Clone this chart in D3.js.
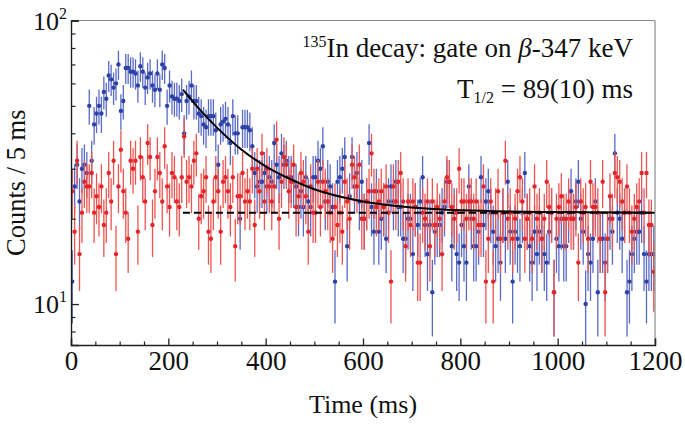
<!DOCTYPE html>
<html>
<head>
<meta charset="utf-8">
<script src="https://cdn.jsdelivr.net/npm/d3@7"></script>
<style>
  html, body { margin: 0; padding: 0; background: #fff; }
  svg { display: block; }
  text { font-family: "Liberation Serif", "Times New Roman", serif; fill: #111; }
</style>
</head>
<body>
<svg id="chart" width="685" height="425"></svg>
<script>
// ---------- data (counts per 5 ms bin, 240 bins from 0 to 1200 ms) ----------
const binWidth = 5;
const blueCounts = [
  12,26,31,23,30,31,29,50,32,43,
  47,50,47,56,53,64,62,58,60,70,
  48,52,68,68,66,66,65,59,69,66,
  58,63,65,59,57,65,57,70,68,50,
  59,54,53,53,52,55,40,52,54,59,
  52,52,47,46,43,42,46,46,46,41,
  31,43,44,45,43,37,46,40,40,20,
  42,42,42,41,36,29,26,27,
  27,29,26,28,27,37,31,28,34,31,
  32,28,28,27,26,22,25,22,28,23,
  22,28,28,32,30,36,23,27,26,22,
  12,27,28,30,33,16,24,33,26,29,
  23,27,20,23,37,22,18,25,18,20,
  22,17,23,26,23,27,22,22,17,17,
  20,20,15,22,19,23,28,19,15,19,
  11,18,19,19,21,22,27,27,16,21,
  15,14,
  19,16,14,26,20,16,16,18,28,19,
  23,25,21,18,16,17,14,21,17,27,
  18,12,18,17,16,21,29,20,16,14,
  18,15,18,17,15,14,18,21,11,17,
  16,20,16,16,21,25,20,23,27,20,
  18,10,15,14,17,23,11,17,17,14,
  17,20,18,34,21,20,17,21,11,12,
  15,17,18,18,21,15,12,15,15,15
];
const redCounts = [
  25,18,32,15,21,27,26,26,29,21,
  24,22,26,19,21,29,23,32,15,26,
  35,25,21,17,32,30,32,18,33,28,
  23,37,33,19,25,33,29,23,36,26,
  22,29,28,23,22,28,39,27,28,26,
  32,34,20,24,25,28,18,17,23,28,
  25,18,27,28,25,22,28,16,24,24,
  29,23,25,23,30,19,30,25,
  34,23,30,26,23,26,38,20,
  27,33,31,25,27,31,22,24,29,27,
  24,18,26,21,21,27,22,27,25,23,
  21,17,22,19,21,18,27,23,20,31,
  28,26,31,20,20,23,25,34,25,22,
  23,25,22,26,21,12,26,23,27,29,
  23,16,23,19,23,22,14,14,21,20,
  23,16,23,19,22,20,15,23,28,27,
  22,20,21,30,
  23,23,20,23,23,20,23,19,19,26,
  12,17,23,12,21,25,17,21,32,20,
  21,17,20,25,28,23,17,20,21,17,
  26,20,21,17,20,27,22,21,11,20,
  22,24,20,20,23,20,20,22,14,23,
  21,22,17,27,22,22,21,17,27,11,
  17,24,20,29,28,27,23,21,26,21,
  18,20,22,23,29,21,29,19,19,13
];
// fit curve (exponential decay + constant background)
const fitTimes  = [230, 260, 300, 350, 400, 450, 500, 600, 700, 800, 1000, 1200];
const fitValues = [57, 49.5, 41.9, 35.1, 30.6, 27.6, 25.4, 23.0, 21.9, 21.4, 21.1, 21.0];
const bgTimes  = [230, 1200];
const bgValues = [21, 21];
const xTicksMajor = [0, 200, 400, 600, 800, 1000, 1200];
const xTicksMinor = [50,100,150,250,300,350,450,500,550,650,700,750,850,900,950,1050,1100,1150];
const yTicksMajor = [10, 100];
const yTickExponents = ["1", "2"];
const yTicksMinor = [8, 9, 20, 30, 40, 50, 60, 70, 80, 90];
const xDomain = [0, 1200];
const yDomain = [7.17, 100];

// ---------- layout ----------
const svg = d3.select("#chart");
const L = 71, R = 655, T = 20.5, B = 345;
const x = d3.scaleLinear().domain(xDomain).range([L, R]);
const y = d3.scaleLog().domain(yDomain).range([B, T]);

svg.append("defs").append("clipPath").attr("id", "plotclip")
  .append("rect").attr("x", L).attr("y", T).attr("width", R - L).attr("height", B - T);

const plot = svg.append("g").attr("clip-path", "url(#plotclip)");

function drawSeries(counts, barColor, dotColor) {
  const data = counts.map((n, i) => ({ t: (i + 0.5) * binWidth, n: n }));
  const g = plot.append("g");
  g.selectAll("line.err").data(data).enter().append("line")
    .attr("class", "err")
    .attr("x1", d => x(d.t)).attr("x2", d => x(d.t))
    .attr("y1", d => y(Math.max(d.n - Math.sqrt(d.n), 1)))
    .attr("y2", d => y(d.n + Math.sqrt(d.n)))
    .attr("stroke", barColor).attr("stroke-width", 1.3);
  return { g, data, dotColor };
}
const sb = drawSeries(blueCounts, "#5a6bc6", "#2d41a6");
const sr = drawSeries(redCounts, "#ec5450", "#e3262a");
[sb, sr].forEach(s => {
  s.g.selectAll("circle").data(s.data).enter().append("circle")
    .attr("cx", d => x(d.t)).attr("cy", d => y(d.n)).attr("r", 2.2)
    .attr("fill", s.dotColor);
});

// background (dashed) and fit curve
const line = d3.line().x(d => x(d[0])).y(d => y(d[1])).curve(d3.curveMonotoneX);
plot.append("path").datum(bgTimes.map((t, i) => [t, bgValues[i]]))
  .attr("d", line).attr("fill", "none").attr("stroke", "#000")
  .attr("stroke-width", 2).attr("stroke-dasharray", "7,4");
plot.append("path").datum(fitTimes.map((t, i) => [t, fitValues[i]]))
  .attr("d", line).attr("fill", "none").attr("stroke", "#000")
  .attr("stroke-width", 2);

// ---------- frame & axes ----------
svg.append("line").attr("x1", L).attr("x2", R).attr("y1", T).attr("y2", T)
  .attr("stroke", "#8a8a8a").attr("stroke-width", 1.2);
svg.append("line").attr("x1", R).attr("x2", R).attr("y1", T).attr("y2", B)
  .attr("stroke", "#8a8a8a").attr("stroke-width", 1.2);

const xAxisMajor = d3.axisBottom(x).tickValues(xTicksMajor).tickSize(-6.5).tickPadding(0).tickFormat(d3.format("d"));
const gx = svg.append("g").attr("transform", `translate(0,${B})`).call(xAxisMajor);
gx.select(".domain").attr("stroke", "#222").attr("stroke-width", 1.4);
gx.selectAll(".tick line").attr("stroke", "#222").attr("stroke-width", 1.3);
gx.selectAll(".tick text").attr("font-size", 27).attr("dy", null).attr("y", 25)
  .style("font-family", '"Liberation Serif", serif').attr("fill", "#111");
const gxm = svg.append("g").attr("transform", `translate(0,${B})`)
  .call(d3.axisBottom(x).tickValues(xTicksMinor).tickSize(-3.5).tickFormat(""));
gxm.select(".domain").remove();
gxm.selectAll(".tick line").attr("stroke", "#222").attr("stroke-width", 1.2);

const gy = svg.append("g").attr("transform", `translate(${L},0)`)
  .call(d3.axisLeft(y).tickValues(yTicksMajor).tickSize(-8).tickFormat(""));
gy.select(".domain").attr("stroke", "#222").attr("stroke-width", 1.4);
gy.selectAll(".tick line").attr("stroke", "#222").attr("stroke-width", 1.3);
const gym = svg.append("g").attr("transform", `translate(${L},0)`)
  .call(d3.axisLeft(y).tickValues(yTicksMinor).tickSize(-4.5).tickFormat(""));
gym.select(".domain").remove();
gym.selectAll(".tick line").attr("stroke", "#222").attr("stroke-width", 1.2);

// y tick labels 10^n
yTicksMajor.forEach((v, i) => {
  const t = svg.append("text").attr("x", 67).attr("y", y(v) + 9)
    .attr("text-anchor", "end").attr("font-size", 26);
  t.append("tspan").text("10");
  t.append("tspan").attr("font-size", 16).attr("dy", -11).text(yTickExponents[i]);
});

// axis titles
svg.append("text").attr("x", (L + R) / 2).attr("y", 413)
  .attr("text-anchor", "middle").attr("font-size", 26).text("Time (ms)");
svg.append("text").attr("transform", `translate(25,${(T + B) / 2}) rotate(-90)`)
  .attr("text-anchor", "middle").attr("font-size", 26.5).text("Counts / 5 ms");

// annotation
const a1 = svg.append("text").attr("x", 633).attr("y", 57)
  .attr("text-anchor", "end").attr("font-size", 27);
a1.append("tspan").attr("font-size", 16).attr("dy", -10).text("135");
a1.append("tspan").attr("dy", 10).text("In decay: gate on ");
a1.append("tspan").attr("font-style", "italic").text("β");
a1.append("tspan").text("-347 keV");

const a2 = svg.append("text").attr("x", 633).attr("y", 98)
  .attr("text-anchor", "end").attr("font-size", 27);
a2.append("tspan").text("T");
a2.append("tspan").attr("font-size", 16).attr("dy", 5).text("1/2");
a2.append("tspan").attr("dy", -5).text(" = 89(10) ms");
</script>
</body>
</html>
